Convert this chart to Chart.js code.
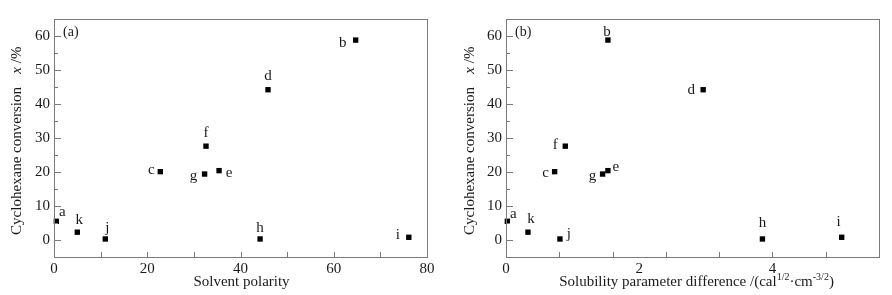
<!DOCTYPE html>
<html>
<head>
<meta charset="utf-8">
<script src="https://cdn.jsdelivr.net/npm/chart.js@4"></script>
<style>
  body { margin: 0; background: #fff; }
  #wrap { position: relative; width: 892px; height: 295px; }
  .box { position: absolute; top: 0; width: 446px; height: 295px; }
</style>
</head>
<body>
<div id="wrap">
  <div class="box" style="left:0"><canvas id="chartA"></canvas></div>
  <div class="box" style="left:446px"><canvas id="chartB"></canvas></div>
</div>
<script>
// solvents a..k
const solvents = ['a', 'b', 'c', 'd', 'e', 'f', 'g', 'h', 'i', 'j', 'k'];
const conversion = [5.5, 58.8, 20.1, 44.2, 20.4, 27.6, 19.4, 0.3, 0.8, 0.3, 2.3];
const polarity = [0.5, 64.7, 22.8, 45.9, 35.4, 32.6, 32.3, 44.2, 76.1, 11.0, 5.0];
const solubilityDiff = [0.02, 1.53, 0.73, 2.96, 1.53, 0.89, 1.45, 3.85, 5.04, 0.81, 0.33];
const yTickLabels = [0, 10, 20, 30, 40, 50, 60];
const polarityTickLabels = [0, 20, 40, 60, 80];
const solubilityTickLabels = [0, 2, 4];

// where each letter sits relative to its point (px)
const labelOffsetA = {
  a: [6, -9], b: [-13, 3], c: [-9, -2], d: [0, -14], e: [10, 2], f: [0, -13],
  g: [-11, 2], h: [0, -11], i: [-11, -2], j: [2, -11], k: [2, -12]
};
const labelOffsetB = {
  a: [6, -7], b: [-1, -8], c: [-9, 1], d: [-12, 0], e: [8, -4], f: [-10, -1],
  g: [-10, 2], h: [0, -16], i: [-3, -15], j: [9, -5], k: [3, -13]
};

const FONT = '"Liberation Serif", "DejaVu Serif", serif';
const TEXT = '#1a1a1a';
const FRAME = '#7a7a7a';

function near(v, list) {
  return list.some(t => Math.abs(v - t) < 1e-6);
}
function isMultiple(v, step) {
  const q = v / step;
  return Math.abs(q - Math.round(q)) < 1e-6;
}

// frame, inward ticks, point letters, titles
const decorPlugin = {
  id: 'decor',
  afterDraw(chart, args, opts) {
    const ctx = chart.ctx;
    const area = chart.chartArea;
    const xs = chart.scales.x;
    const ys = chart.scales.y;
    ctx.save();
    ctx.strokeStyle = FRAME;
    ctx.lineWidth = 1;
    ctx.strokeRect(Math.round(area.left) + 0.5, Math.round(area.top) + 0.5,
      Math.round(area.right - area.left), Math.round(area.bottom - area.top));

    // y ticks
    ys.ticks.forEach(t => {
      if (t.value <= ys.min || t.value >= ys.max) return;
      const y = Math.round(ys.getPixelForValue(t.value)) + 0.5;
      const len = isMultiple(t.value, 10) ? 7 : 4;
      ctx.beginPath();
      ctx.moveTo(area.left, y);
      ctx.lineTo(area.left + len, y);
      ctx.stroke();
    });
    // x ticks
    xs.ticks.forEach(t => {
      if (t.value <= xs.min + 1e-6 || t.value >= xs.max - 1e-6) return;
      if (!isMultiple(t.value, opts.xTickStep)) return;
      const x = Math.round(xs.getPixelForValue(t.value)) + 0.5;
      ctx.beginPath();
      ctx.moveTo(x, area.bottom);
      ctx.lineTo(x, area.bottom - 5);
      ctx.stroke();
    });

    // point letters
    ctx.fillStyle = TEXT;
    ctx.font = '15px ' + FONT;
    ctx.textAlign = 'center';
    ctx.textBaseline = 'middle';
    const meta = chart.getDatasetMeta(0);
    meta.data.forEach((pt, i) => {
      const name = solvents[i];
      const off = opts.offsets[name];
      ctx.fillText(name, pt.x + off[0], pt.y + off[1]);
    });

    // panel tag
    ctx.font = '14px ' + FONT;
    ctx.textAlign = 'left';
    ctx.fillText(opts.tag, area.left + 9, area.top + 13);

    // y title
    ctx.save();
    ctx.translate(opts.yTitleX, 0);
    ctx.rotate(-Math.PI / 2);
    ctx.font = '15px ' + FONT;
    ctx.textAlign = 'center';
    ctx.fillText('Cyclohexane conversion', -161, 0);
    ctx.font = 'italic 15px ' + FONT;
    ctx.textAlign = 'right';
    ctx.fillText('x', -67, 0);
    ctx.font = '15px ' + FONT;
    ctx.textAlign = 'left';
    ctx.fillText(' /%', -67, 0);
    ctx.restore();

    // x title
    ctx.font = '15px ' + FONT;
    ctx.textAlign = 'center';
    ctx.textBaseline = 'middle';
    const cx = (area.left + area.right) / 2 + opts.xTitleShift;
    if (opts.xTitleParts) {
      // pieces with superscripts
      const pieces = [];
      opts.xTitleParts.forEach(p => {
        ctx.font = (p.sup ? '10px ' : '15px ') + FONT;
        pieces.push({ text: p.text, sup: p.sup, w: ctx.measureText(p.text).width });
      });
      const total = pieces.reduce((s, p) => s + p.w, 0);
      let x = cx - total / 2;
      ctx.textAlign = 'left';
      pieces.forEach(p => {
        ctx.font = (p.sup ? '10px ' : '15px ') + FONT;
        ctx.fillText(p.text, x, p.sup ? 277 : 282);
        x += p.w;
      });
    } else {
      ctx.fillText(opts.xTitle, cx, 282);
    }
    ctx.restore();
  }
};

function makeChart(id, xValues, cfg) {
  const points = xValues.map((x, i) => ({ x: x, y: conversion[i] }));
  return new Chart(document.getElementById(id), {
    type: 'scatter',
    data: {
      datasets: [{
        data: points,
        pointStyle: 'rect',
        radius: 3.8,
        hoverRadius: 3.8,
        backgroundColor: '#000',
        borderColor: '#000',
        borderWidth: 0,
        clip: false
      }]
    },
    options: {
      responsive: true,
      maintainAspectRatio: false,
      animation: false,
      events: [],
      layout: { padding: { left: 0, right: cfg.padRight, top: 19, bottom: 0 } },
      plugins: {
        legend: { display: false },
        tooltip: { enabled: false },
        decor: cfg.decor
      },
      scales: {
        x: {
          type: 'linear',
          min: cfg.xMin,
          max: cfg.xMax,
          grid: { display: false, drawTicks: false },
          border: { display: false },
          afterFit: s => { s.height = 38; },
          ticks: {
            stepSize: cfg.xStep,
            autoSkip: false,
            maxRotation: 0,
            padding: 3,
            color: TEXT,
            font: { family: FONT, size: 15 },
            callback: v => near(v, cfg.xLabels) ? String(Math.round(v)) : ''
          }
        },
        y: {
          type: 'linear',
          min: -5,
          max: 65,
          grid: { display: false, drawTicks: false },
          border: { display: false },
          afterFit: s => { s.width = cfg.yWidth; },
          ticks: {
            stepSize: 5,
            autoSkip: false,
            padding: 4,
            color: TEXT,
            font: { family: FONT, size: 15 },
            callback: v => near(v, yTickLabels) ? String(v) : ''
          }
        }
      }
    },
    plugins: [decorPlugin]
  });
}

makeChart('chartA', polarity, {
  xMin: 0, xMax: 80, xStep: 10, xLabels: polarityTickLabels,
  yWidth: 54, padRight: 19,
  decor: {
    offsets: labelOffsetA, tag: '(a)', xTickStep: 10, yTitleX: 17,
    xTitle: 'Solvent polarity', xTitleShift: 1
  }
});

makeChart('chartB', solubilityDiff, {
  xMin: 0, xMax: 5.6, xStep: 0.4, xLabels: solubilityTickLabels,
  yWidth: 60, padRight: 13,
  decor: {
    offsets: labelOffsetB, tag: '(b)', xTickStep: 0.8, yTitleX: 24,
    xTitleShift: 4,
    xTitleParts: [
      { text: 'Solubility parameter difference /(cal' },
      { text: '1/2', sup: true },
      { text: '\u00b7cm' },
      { text: '-3/2', sup: true },
      { text: ')' }
    ]
  }
});
</script>
</body>
</html>
